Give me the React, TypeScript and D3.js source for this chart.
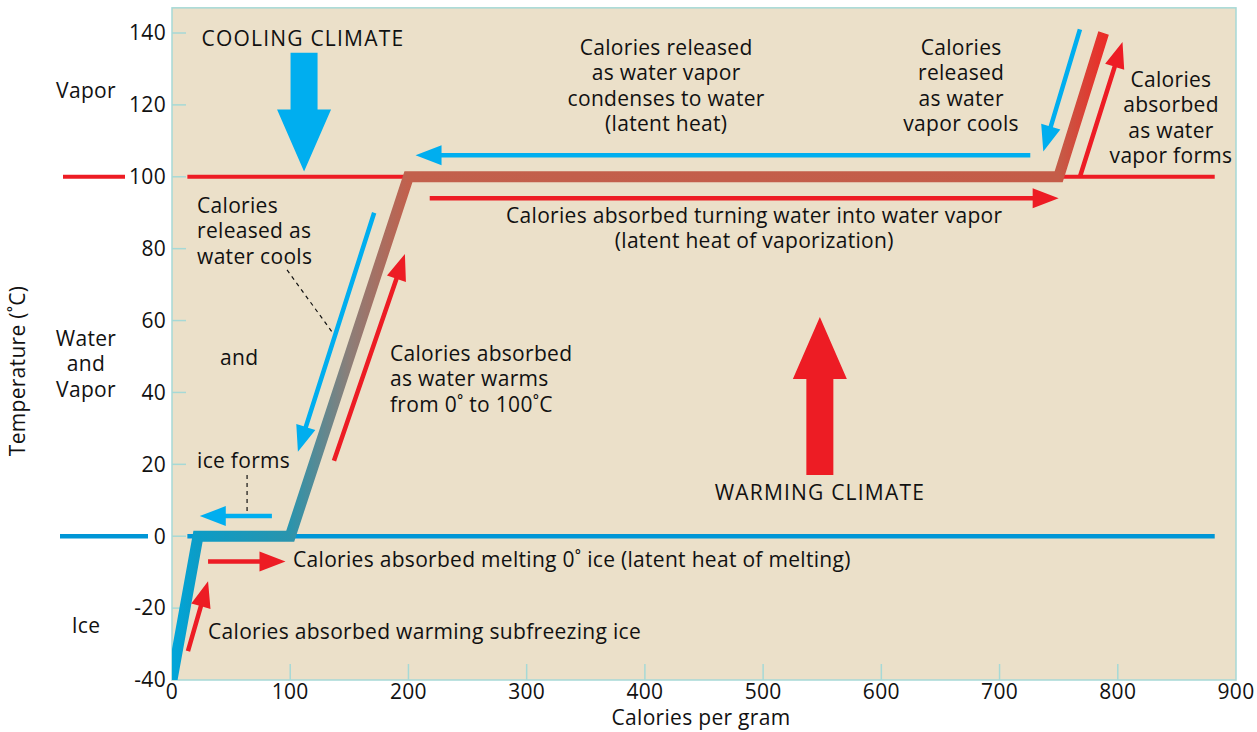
import React from 'react';
import * as d3 from 'd3';

// heating curve of water, calories per gram vs temperature
const curveCalories = [0, 22, 100, 200, 750, 788];
const curveTemps = [-40, 0, 0, 100, 100, 140];

const xTicks = [0, 100, 200, 300, 400, 500, 600, 700, 800, 900];
const yTicks = [-40, -20, 0, 20, 40, 60, 80, 100, 120, 140];

// arrows: [cal1, temp1, cal2, temp2] tail -> tip
const blueArrows = [
  [171, 90, 106.5, 23.5],
  [726, 106, 206, 106],
  [768, 141, 737, 107],
  [84.5, 5.6, 23.5, 5.6],
];
const redArrows = [
  [137, 21, 197, 78.5],
  [218, 94, 750, 94],
  [768, 100, 804, 137.5],
  [30.5, -7, 96, -7],
  [13.5, -32, 30.5, -12.5],
];
const bigArrows = [
  { cal: 111.7, from: 134.5, to: 101.5, color: '#00AEEF' },
  { cal: 548, from: 17, to: 61, color: '#ED1C24' },
];

const labelBlocks = [
  { cal: 25, temp: 136.5, anchor: 'start', caps: true, lines: ['COOLING CLIMATE'] },
  { cal: 418, temp: 134, anchor: 'middle', lines: ['Calories released', 'as water vapor', 'condenses to water', '(latent heat)'] },
  { cal: 667.5, temp: 134, anchor: 'middle', lines: ['Calories', 'released', 'as water', 'vapor cools'] },
  { cal: 845, temp: 125, anchor: 'middle', lines: ['Calories', 'absorbed', 'as water', 'vapor forms'] },
  { cal: 492.5, temp: 87.2, anchor: 'middle', lines: ['Calories absorbed turning water into water vapor', '(latent heat of vaporization)'] },
  { cal: 21.2, temp: 90, anchor: 'start', lines: ['Calories', 'released as', 'water cools'] },
  { cal: 40.6, temp: 47.6, anchor: 'start', lines: ['and'] },
  { cal: 184.4, temp: 48.8, anchor: 'start', lines: ['Calories absorbed', 'as water warms', 'from 0˚ to 100˚C'] },
  { cal: 21.2, temp: 19, anchor: 'start', lines: ['ice forms'] },
  { cal: 548, temp: 10.1, anchor: 'middle', caps: true, lines: ['WARMING CLIMATE'] },
  { cal: 102.4, temp: -8.6, anchor: 'start', lines: ['Calories absorbed melting 0˚ ice (latent heat of melting)'] },
  { cal: 30.5, temp: -28.6, anchor: 'start', lines: ['Calories absorbed warming subfreezing ice'] },
];

const phaseLabels = [
  { temp: 122, lines: ['Vapor'] },
  { temp: 53, lines: ['Water', 'and', 'Vapor'] },
  { temp: -27, lines: ['Ice'] },
];

// leader lines: [cal1, temp1, cal2, temp2]
const leaders = [
  [97.3, 74.1, 135.4, 56.8],
  [63.5, 17, 63.5, 5.9],
];

const W = 1257;
const H = 732;
const FONT = "'Open Sans', sans-serif";
const FS = 21;
const LS = 0.3;
const BLUE = '#00AEEF';
const RED = '#ED1C24';
const AXIS = '#A6D9D6';

const arrowPoints = (x1: number, y1: number, x2: number, y2: number, sw: number, hl: number, hw: number) => {
  const dx = x2 - x1, dy = y2 - y1;
  const len = Math.sqrt(dx * dx + dy * dy);
  const ux = dx / len, uy = dy / len;
  const nx = -uy, ny = ux;
  const bx = x2 - ux * hl, by = y2 - uy * hl;
  const pts = [
    [x1 + nx * sw / 2, y1 + ny * sw / 2],
    [bx + nx * sw / 2, by + ny * sw / 2],
    [bx + nx * hw, by + ny * hw],
    [x2, y2],
    [bx - nx * hw, by - ny * hw],
    [bx - nx * sw / 2, by - ny * sw / 2],
    [x1 - nx * sw / 2, y1 - ny * sw / 2],
  ];
  return pts.map(p => p.join(',')).join(' ');
};

const App = () => {
  const x = d3.scaleLinear().domain([0, 900]).range([172, 1236]);
  const y = d3.scaleLinear().domain([-40, 140]).range([680, 33]);

  const top = y(147);
  const bottom = y(-40);
  const left = x(0);
  const right = x(900);

  const curve = curveCalories.map((c, i) => [c, curveTemps[i]] as [number, number]);
  const line = d3.line<[number, number]>().x(d => x(d[0])).y(d => y(d[1]));
  const last = curveCalories[curveCalories.length - 1];
  const off = (c: number) => (x(c) - x(0)) / (x(last) - x(0));

  return (
    <svg width={W} height={H} style={{ position: 'absolute', left: 0, top: 0, background: '#fff' }} fontFamily={FONT} fontSize={FS} letterSpacing={LS}>
      <defs>
        <linearGradient id="heat" gradientUnits="userSpaceOnUse" x1={x(0)} y1={0} x2={x(last)} y2={0}>
          <stop offset={off(0)} stopColor="#00A6DA" />
          <stop offset={off(22)} stopColor="#0C9CC6" />
          <stop offset={off(100)} stopColor="#2A94AD" />
          <stop offset={off(150)} stopColor="#8C7E78" />
          <stop offset={off(200)} stopColor="#C2604C" />
          <stop offset={off(750)} stopColor="#C45C48" />
          <stop offset={off(last)} stopColor="#EA2E28" />
        </linearGradient>
        <clipPath id="plot">
          <rect x={left} y={top} width={right - left} height={bottom - top} />
        </clipPath>
      </defs>

      <rect x={left} y={top} width={right - left} height={bottom - top} fill="#EBE0C9" stroke={AXIS} strokeWidth={1.5} />

      {xTicks.filter(t => t > 0 && t < 900).map(t => (
        <line key={'xt' + t} x1={x(t)} x2={x(t)} y1={bottom} y2={bottom - 16} stroke={AXIS} strokeWidth={1.5} />
      ))}
      {yTicks.filter(t => t > -40).map(t => (
        <line key={'yt' + t} x1={left} x2={left + 14} y1={y(t)} y2={y(t)} stroke={AXIS} strokeWidth={1.5} />
      ))}

      {/* boiling and freezing lines */}
      <line x1={x(13)} x2={x(882)} y1={y(100)} y2={y(100)} stroke={RED} strokeWidth={4} />
      <line x1={left - 109} x2={left - 47} y1={y(100)} y2={y(100)} stroke={RED} strokeWidth={4} />
      <line x1={x(13)} x2={x(882)} y1={y(0)} y2={y(0)} stroke="#0096D6" strokeWidth={4.5} />
      <line x1={left - 112} x2={left - 24} y1={y(0)} y2={y(0)} stroke="#0096D6" strokeWidth={4.5} />

      <g clipPath="url(#plot)">
        <path d={line(curve) || ''} fill="none" stroke="url(#heat)" strokeWidth={11} strokeLinejoin="miter" />
      </g>

      {leaders.map((l, i) => (
        <line key={'ld' + i} x1={x(l[0])} y1={y(l[1])} x2={x(l[2])} y2={y(l[3])} stroke="#111" strokeWidth={1.2} strokeDasharray="4,4" />
      ))}

      {blueArrows.map((a, i) => (
        <polygon key={'ba' + i} points={arrowPoints(x(a[0]), y(a[1]), x(a[2]), y(a[3]), 4.5, 26, 10)} fill={BLUE} />
      ))}
      {redArrows.map((a, i) => (
        <polygon key={'ra' + i} points={arrowPoints(x(a[0]), y(a[1]), x(a[2]), y(a[3]), 4.5, 26, 10)} fill={RED} />
      ))}
      {bigArrows.map((a, i) => (
        <polygon key={'big' + i} points={arrowPoints(x(a.cal), y(a.from), x(a.cal), y(a.to), 27, 62, 27)} fill={a.color} />
      ))}

      {labelBlocks.map((b, i) => (
        <text key={'lb' + i} x={x(b.cal)} y={y(b.temp)} textAnchor={b.anchor} fill="#111" letterSpacing={b.caps ? 1.2 : LS}>
          {b.lines.map((s, j) => (
            <tspan key={j} x={x(b.cal)} dy={j === 0 ? 0 : 25.5}>{s}</tspan>
          ))}
        </text>
      ))}

      {phaseLabels.map((b, i) => (
        <text key={'ph' + i} x={86} y={y(b.temp)} textAnchor="middle" fill="#111">
          {b.lines.map((s, j) => (
            <tspan key={j} x={86} dy={j === 0 ? 0 : 25.5}>{s}</tspan>
          ))}
        </text>
      ))}

      {yTicks.map(t => (
        <text key={'yl' + t} x={left - 6} y={y(t)} dy="0.35em" textAnchor="end" fill="#111">{t}</text>
      ))}
      {xTicks.map(t => (
        <text key={'xl' + t} x={x(t)} y={bottom + 19} textAnchor="middle" fill="#111">{t}</text>
      ))}

      <text x={(left + right) / 2 - 3} y={bottom + 45} textAnchor="middle" fill="#111">Calories per gram</text>
      <text transform={`translate(25,${(top + bottom) / 2 + 27}) rotate(-90)`} textAnchor="middle" fill="#111">Temperature (˚C)</text>
    </svg>
  );
};

export default App;
